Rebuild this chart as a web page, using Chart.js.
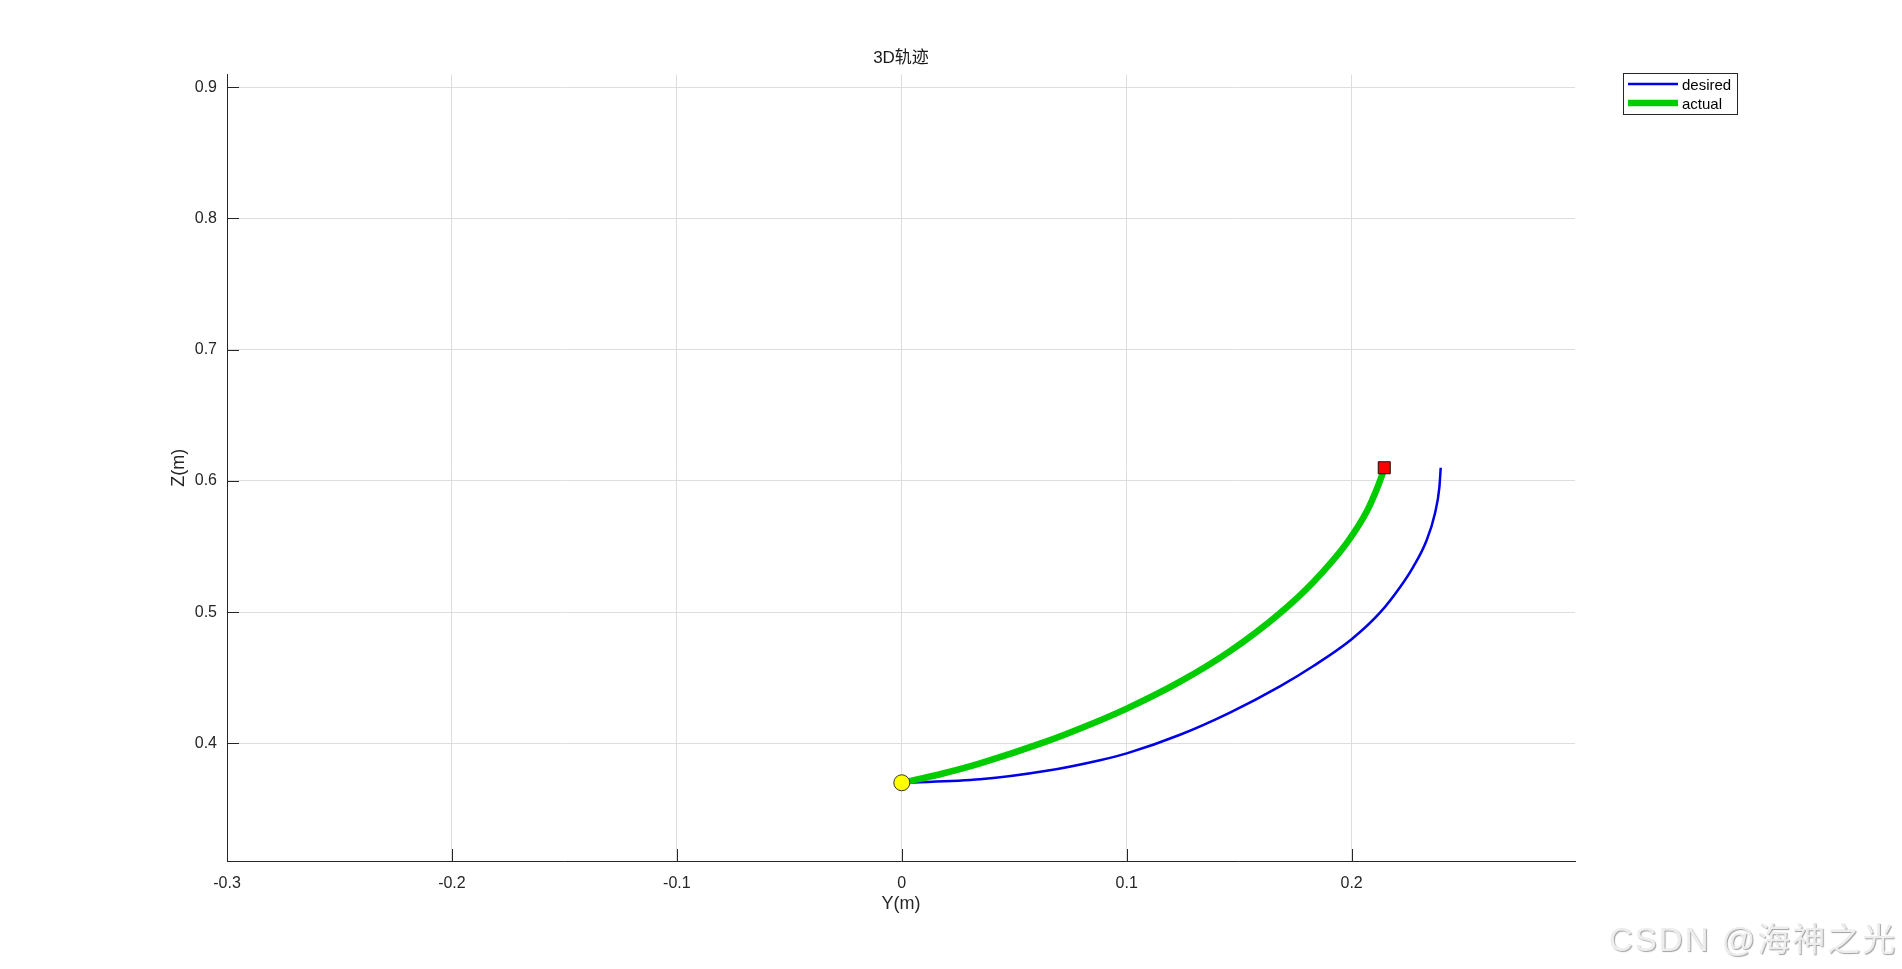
<!DOCTYPE html>
<html>
<head>
<meta charset="utf-8">
<script src="https://cdn.jsdelivr.net/npm/chart.js@4.4.0/dist/chart.umd.min.js"></script>
<style>
    html, body { margin: 0; padding: 0; background: #fff; }
    #wrap { position: relative; width: 1902px; height: 969px; }
    #watermark {
        position: absolute; left: 1609px; top: 913px;
        font: 33px 'Liberation Sans', 'Noto Sans CJK SC', sans-serif;
        color: #ededed; text-shadow: 1px 1px 1px #a0a0a0;
        letter-spacing: 2px; white-space: nowrap;
    }
</style>
</head>
<body>
<div id="wrap">
    <canvas id="trajCanvas" width="1902" height="969"></canvas>
    <div id="watermark">CSDN @海神之光</div>
</div>
<script>
// Desired trajectory (Y, Z in metres)
const desiredY = [0, 0.0348, 0.0644, 0.0881, 0.1, 0.1237, 0.1459, 0.1681, 0.183, 0.2, 0.2126, 0.2215, 0.2274, 0.2333, 0.237, 0.239, 0.2396];
const desiredZ = [0.370, 0.3726, 0.3791, 0.3872, 0.3924, 0.4066, 0.4235, 0.4435, 0.4590, 0.4794, 0.4996, 0.5190, 0.5345, 0.5546, 0.5750, 0.5950, 0.610];

// Actual trajectory
const actualY = [0, 0.0174, 0.0348, 0.0644, 0.0793, 0.1, 0.1237, 0.1459, 0.1681, 0.183, 0.1978, 0.2067, 0.2119, 0.2140, 0.2145];
const actualZ = [0.370, 0.3767, 0.3848, 0.4015, 0.4113, 0.4265, 0.4470, 0.4703, 0.4992, 0.5230, 0.5526, 0.5766, 0.5969, 0.6070, 0.610];

// Start / end markers
const startPoint = [0, 0.370];
const endPoint = [0.2145, 0.610];

// Axis ticks and limits
const xTicks = [-0.3, -0.2, -0.1, 0, 0.1, 0.2];
const zTicks = [0.4, 0.5, 0.6, 0.7, 0.8, 0.9];
const xLimits = [-0.3, 0.2993];
const zLimits = [0.3104, 0.9097];

const seriesNames = ['desired', 'actual'];

const FONT = "'Liberation Sans', 'Noto Sans CJK SC', sans-serif";
const axisColor = '#262626';
const gridColor = '#dedede';

function toPoints(xs, ys) {
    return xs.map((x, i) => ({ x: x, y: ys[i] }));
}

// MATLAB-style ticks pointing into the plot
const innerTicks = {
    id: 'innerTicks',
    afterDraw(chart) {
        const { ctx, chartArea: a, scales } = chart;
        ctx.save();
        ctx.strokeStyle = axisColor;
        ctx.lineWidth = 1;
        ctx.beginPath();
        xTicks.forEach(v => {
            const px = Math.round(scales.x.getPixelForValue(v)) + 0.5;
            ctx.moveTo(px, a.bottom);
            ctx.lineTo(px, a.bottom - 12);
        });
        zTicks.forEach(v => {
            const py = Math.round(scales.y.getPixelForValue(v)) + 0.5;
            ctx.moveTo(a.left, py);
            ctx.lineTo(a.left + 12, py);
        });
        ctx.stroke();
        ctx.restore();
    }
};

// boxed legend in the top right corner
const boxLegend = {
    id: 'boxLegend',
    afterDraw(chart) {
        const ctx = chart.ctx;
        const left = 1623, top = 73, w = 114, h = 41;
        ctx.save();
        ctx.fillStyle = '#fff';
        ctx.fillRect(left, top, w, h);
        ctx.strokeStyle = axisColor;
        ctx.lineWidth = 1;
        ctx.strokeRect(left + 0.5, top + 0.5, w, h);
        ctx.font = '15px ' + FONT;
        ctx.textBaseline = 'middle';
        seriesNames.forEach((name, i) => {
            const ds = chart.data.datasets.find(d => d.label === name);
            const y = top + 11 + i * 19;
            ctx.strokeStyle = ds.borderColor;
            ctx.lineWidth = ds.borderWidth;
            ctx.beginPath();
            ctx.moveTo(left + 5, y);
            ctx.lineTo(left + 55, y);
            ctx.stroke();
            ctx.fillStyle = '#000';
            ctx.fillText(name, left + 59, y + 2);
        });
        ctx.restore();
    }
};

Chart.defaults.font.family = FONT;

const ctx = document.getElementById('trajCanvas').getContext('2d');
const chart = new Chart(ctx, {
    type: 'scatter',
    data: {
        datasets: [
            {
                label: seriesNames[0],
                data: toPoints(desiredY, desiredZ),
                showLine: true,
                borderColor: '#0000e6',
                borderWidth: 2.5,
                pointRadius: 0,
                cubicInterpolationMode: 'monotone',
                order: 3
            },
            {
                label: seriesNames[1],
                data: toPoints(actualY, actualZ),
                showLine: true,
                borderColor: '#00cc00',
                borderWidth: 6.5,
                pointRadius: 0,
                cubicInterpolationMode: 'monotone',
                order: 2
            },
            {
                label: 'start',
                data: [{ x: startPoint[0], y: startPoint[1] }],
                pointRadius: 8,
                pointStyle: 'circle',
                backgroundColor: '#ffff00',
                borderColor: '#333',
                borderWidth: 1,
                order: 1
            },
            {
                label: 'end',
                data: [{ x: endPoint[0], y: endPoint[1] }],
                pointRadius: 8.5,
                pointStyle: 'rect',
                backgroundColor: '#ff0000',
                borderColor: '#111',
                borderWidth: 1,
                order: 0
            }
        ]
    },
    options: {
        responsive: false,
        animation: false,
        devicePixelRatio: 1,
        layout: { padding: { left: 0, right: 327, top: 0, bottom: 0 } },
        plugins: {
            legend: { display: false },
            tooltip: { enabled: false },
            title: {
                display: true,
                fullSize: false,
                text: '3D轨迹',
                color: '#1a1a1a',
                font: { size: 17, weight: 'normal' },
                padding: { top: 48, bottom: 6 }
            }
        },
        scales: {
            x: {
                type: 'linear',
                min: xLimits[0],
                max: xLimits[1],
                afterBuildTicks: axis => { axis.ticks = xTicks.map(v => ({ value: v })); },
                afterFit: axis => { axis.height = 108; },
                ticks: { color: axisColor, font: { size: 16 }, padding: 13, callback: v => String(v) },
                grid: { color: gridColor, drawTicks: false },
                border: { display: true, color: axisColor, width: 1 },
                title: { display: true, text: 'Y(m)', color: axisColor, font: { size: 18 }, padding: { top: 0, bottom: 54 } }
            },
            y: {
                type: 'linear',
                min: zLimits[0],
                max: zLimits[1],
                afterBuildTicks: axis => { axis.ticks = zTicks.map(v => ({ value: v })); },
                afterFit: axis => { axis.width = 227; },
                ticks: { color: axisColor, font: { size: 16 }, padding: 10, callback: v => String(v) },
                grid: { color: gridColor, drawTicks: false },
                border: { display: true, color: axisColor, width: 1 },
                title: { display: true, text: 'Z(m)', color: axisColor, font: { size: 18 }, padding: { top: 168, bottom: 0 } }
            }
        }
    },
    plugins: [innerTicks, boxLegend]
});
</script>
</body>
</html>
